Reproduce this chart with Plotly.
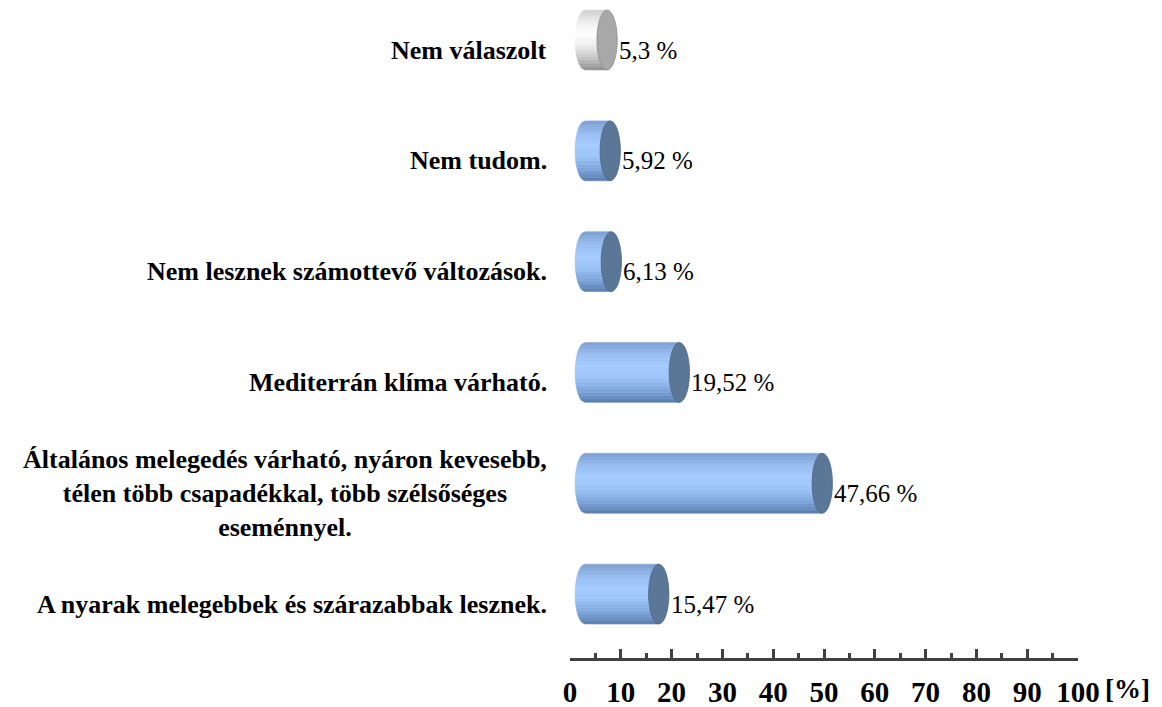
import numpy as np
import plotly.graph_objects as go

# answers, top to bottom as in the chart
categories = [
    "Nem válaszolt",
    "Nem tudom.",
    "Nem lesznek számottevő változások.",
    "Mediterrán klíma várható.",
    "Általános melegedés várható, nyáron kevesebb,<br>télen több csapadékkal, több szélsőséges<br>eseménnyel.",
    "A nyarak melegebbek és szárazabbak lesznek.",
]
values = [5.3, 5.92, 6.13, 19.52, 47.66, 15.47]
value_labels = ["5,3 %", "5,92 %", "6,13 %", "19,52 %", "47,66 %", "15,47 %"]
tick_values = [0, 10, 20, 30, 40, 50, 60, 70, 80, 90, 100]

SERIF = "Liberation Serif"

# cylinder styles (body gradient from bottom to top, front face)
blue_style = {
    "stops": ["#5a7cae", "#7fa6dc", "#9cc3f6", "#a6ccff", "#98bdf0", "#7c9fd0"],
    "face": "#5b7798",
    "edge": "#4d6786",
}
grey_style = {
    "stops": ["#8f8f8f", "#c4c4c4", "#ececec", "#ffffff", "#eeeeee", "#cfcfcf"],
    "face": "#a8a8a8",
    "edge": "#8e8e8e",
}


def hex_to_rgb(h):
    h = h.lstrip("#")
    return [int(h[i:i + 2], 16) for i in (0, 2, 4)]


def gradient_color(stops, f):
    # f in [0, 1], bottom -> top
    pos = f * (len(stops) - 1)
    i = min(int(pos), len(stops) - 2)
    w = pos - i
    a, b = hex_to_rgb(stops[i]), hex_to_rgb(stops[i + 1])
    c = [round(a[k] + (b[k] - a[k]) * w) for k in range(3)]
    return "rgb(%d,%d,%d)" % tuple(c)


def cylinder_shapes(yc, value, style, half_h=0.27, cx_left=3.0, rx=2.0, n_stripes=18):
    shapes = []
    x_right = value + 2.0
    ts = np.linspace(-1, 1, n_stripes + 1)
    for k in range(n_stripes):
        ta, tb = ts[k], ts[k + 1]
        sub = np.linspace(ta, tb, 4)
        left_pts = [(cx_left - rx * np.sqrt(max(0.0, 1 - t * t)), yc + t * half_h) for t in sub]
        path = "M %f,%f" % left_pts[0]
        for p in left_pts[1:]:
            path += " L %f,%f" % p
        path += " L %f,%f L %f,%f Z" % (x_right, yc + tb * half_h, x_right, yc + ta * half_h)
        col = gradient_color(style["stops"], (k + 0.5) / n_stripes)
        shapes.append(dict(type="path", path=path, xref="x", yref="y",
                           fillcolor=col, line=dict(width=0.6, color=col), layer="above"))
    shapes.append(dict(type="circle", xref="x", yref="y",
                       x0=value, x1=value + 4.0, y0=yc - half_h, y1=yc + half_h,
                       fillcolor=style["face"], line=dict(width=0.8, color=style["edge"]),
                       layer="above"))
    return shapes


positions = list(range(len(categories) - 1, -1, -1))

fig = go.Figure()

# invisible trace to set up the axes
fig.add_trace(go.Scatter(x=values, y=positions, mode="markers",
                         marker=dict(opacity=0), hoverinfo="skip", showlegend=False))

shapes = []
annotations = []
for i, (cat, v, lab, pos) in enumerate(zip(categories, values, value_labels, positions)):
    style = grey_style if i == 0 else blue_style
    shapes += cylinder_shapes(pos + 0.09, v, style)
    annotations.append(dict(x=v + 4.0, y=pos, xref="x", yref="y", text=lab,
                            showarrow=False, xanchor="left", yanchor="middle",
                            font=dict(family=SERIF, size=25, color="black")))
    annotations.append(dict(x=0, y=pos, xref="paper", yref="y", text="<b>%s</b>" % cat,
                            showarrow=False, xanchor="right", yanchor="middle", align="center",
                            xshift=-21,
                            font=dict(family=SERIF, size=26, color="black")))

annotations.append(dict(x=100, y=0, xref="x", yref="paper", text="<b>[%]</b>",
                        showarrow=False, xanchor="left", yanchor="middle",
                        xshift=25, yshift=-31,
                        font=dict(family=SERIF, size=27, color="black")))

# the page adds an 8px body margin, so the figure is 8px smaller each way
fig.update_layout(
    width=1154,
    height=699,
    margin=dict(l=562, r=84, t=0, b=49),
    paper_bgcolor="white",
    plot_bgcolor="white",
    showlegend=False,
    shapes=shapes,
    annotations=annotations,
    xaxis=dict(
        range=[0, 100],
        tickvals=tick_values,
        showgrid=False,
        zeroline=False,
        showline=True,
        linewidth=3,
        linecolor="#404040",
        ticks="inside",
        ticklen=9,
        tickwidth=3,
        tickcolor="#404040",
        ticklabelstandoff=6,
        tickfont=dict(family=SERIF, size=29, color="black", weight="bold"),
        minor=dict(dtick=5, ticks="inside", ticklen=5, tickwidth=3, tickcolor="#404040",
                   showgrid=False),
        fixedrange=True,
    ),
    yaxis=dict(
        range=[-0.487, 5.379],
        visible=False,
        fixedrange=True,
    ),
)

fig.write_html("out.html")
